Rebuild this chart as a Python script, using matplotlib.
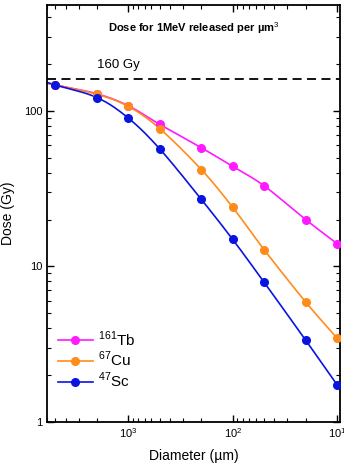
import numpy as np
import matplotlib
matplotlib.use("Agg")
import matplotlib.pyplot as plt
from matplotlib.ticker import LogLocator, NullFormatter, FixedLocator

plt.rcParams['font.family'] = ['Liberation Sans', 'DejaVu Sans']
plt.rcParams['mathtext.fontset'] = 'custom'
plt.rcParams['mathtext.rm'] = 'Liberation Sans'

diameter = [5000, 2000, 1000, 500, 200, 100, 50, 20, 10]
tb161 = [147, 129, 108, 82, 58, 44, 33, 20, 14]
cu67 = [147, 128, 107, 77, 42, 24, 12.8, 5.9, 3.45]
sc47 = [147, 122, 90, 57, 27, 14.9, 7.9, 3.35, 1.73]
series_labels = ['$^{161}$Tb', '$^{67}$Cu', '$^{47}$Sc']
ref_dose = 160

colors = ['#ff1aff', '#ff8c1a', '#0a14e0']
XL = (6000, 9.4)

def smooth(x, y, n=30):
    lx = np.log10(np.asarray(x, float))
    ly = np.log10(np.asarray(y, float))
    P = np.column_stack([lx, ly])
    P = np.vstack([2 * P[0] - P[1], P, 2 * P[-1] - P[-2]])
    out = []
    for i in range(1, len(P) - 2):
        p0, p1, p2, p3 = P[i - 1], P[i], P[i + 1], P[i + 2]
        t = np.linspace(0, 1, n, endpoint=False)[:, None]
        pts = 0.5 * ((2 * p1) + (-p0 + p2) * t + (2 * p0 - 5 * p1 + 4 * p2 - p3) * t ** 2
                     + (-p0 + 3 * p1 - 3 * p2 + p3) * t ** 3)
        out.append(pts)
    out.append(P[-2][None, :])
    out = np.vstack(out)
    # extend to the axis edges along the end slopes
    s0 = (ly[1] - ly[0]) / (lx[1] - lx[0])
    s1 = (ly[-1] - ly[-2]) / (lx[-1] - lx[-2])
    a = np.log10(XL[0]); b = np.log10(XL[1])
    first = np.array([[a, ly[0] + s0 * (a - lx[0])]])
    last = np.array([[b, ly[-1] + s1 * (b - lx[-1])]])
    out = np.vstack([first, out, last])
    return 10 ** out[:, 0], 10 ** out[:, 1]

fig = plt.figure(figsize=(3.44, 4.65), dpi=100)
ax = fig.add_axes([0.137, 0.093, 0.851, 0.896])

for ys, c, lab in zip([tb161, cu67, sc47], colors, series_labels):
    sx, sy = smooth(diameter, ys)
    ax.plot(sx, sy, color=c, lw=1.2, zorder=2)
    ax.plot(diameter, ys, 'o', color=c, ms=5.5, zorder=3)
    ax.plot([], [], '-o', color=c, lw=1.2, ms=5.5, label=lab)

ax.axhline(ref_dose, color='black', ls=(0, (5, 3)), lw=1.3)
ax.text(0.17, 0.843, '160 Gy', transform=ax.transAxes, fontsize=9.5, ha='left', va='bottom')
ax.text(0.5, 0.945, 'Dose for 1MeV released per µm$^{3}$', transform=ax.transAxes,
        fontsize=8, fontweight='bold', ha='center', va='center')

ax.set_xscale('log')
ax.set_yscale('log')
ax.set_xlim(*XL)
ax.set_ylim(1, 480)

ax.set_xticks([1000, 100, 10])
ax.set_xticklabels(['$10^3$', '$10^2$', '$10^1$'])
ax.xaxis.set_minor_locator(LogLocator(base=10, subs=np.arange(2, 10)))
ax.xaxis.set_minor_formatter(NullFormatter())
ax.set_yticks([1, 10, 100])
ax.set_yticklabels(['1', '10', '100'])
ax.yaxis.set_minor_locator(LogLocator(base=10, subs=np.arange(2, 10)))
ax.yaxis.set_minor_formatter(NullFormatter())

ax.tick_params(which='both', direction='in', top=True, right=True, labelsize=8)
ax.tick_params(which='major', length=5, width=1)
ax.tick_params(which='minor', length=3, width=0.8)
for s in ax.spines.values():
    s.set_linewidth(1.3)

ax.set_xlabel('Diameter (µm)', fontsize=10, labelpad=6)
ax.set_ylabel('Dose (Gy)', fontsize=10, labelpad=6)

ax.legend(loc='lower left', bbox_to_anchor=(0.0, 0.05), frameon=False, fontsize=11,
          handlelength=2.3, handletextpad=0.3, labelspacing=0.1, borderaxespad=0.3)

fig.savefig('out.png', dpi=100)
